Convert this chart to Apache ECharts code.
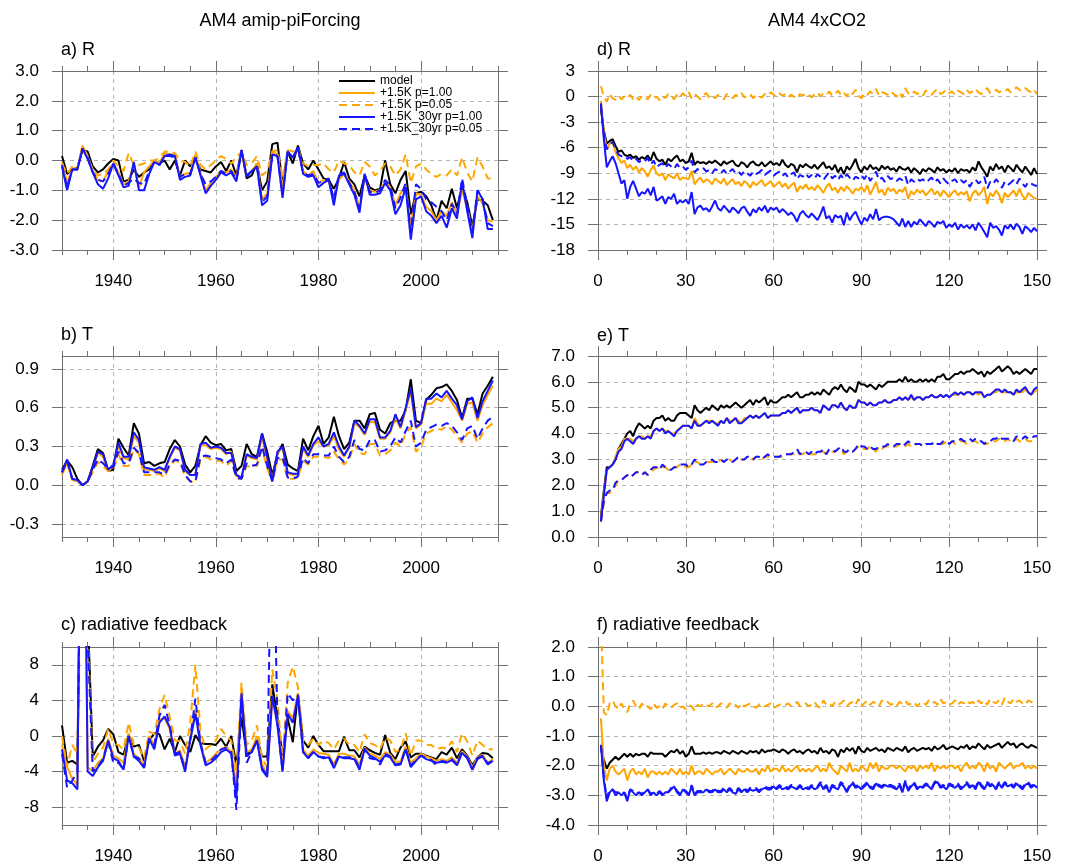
<!DOCTYPE html>
<html>
<head>
<meta charset="utf-8">
<title>AM4 radiative feedback</title>
<script src="https://cdn.jsdelivr.net/npm/echarts@6/dist/echarts.min.js"></script>
<style>
  html, body { margin: 0; padding: 0; background: #fff; }
  #chart { width: 1065px; height: 865px; }
</style>
</head>
<body>
<div id="chart"></div>
<script>
// ---- data ----
const NAMES = ['model', '+1.5K p=1.00', '+1.5K p=0.05', '+1.5K_30yr p=1.00', '+1.5K_30yr p=0.05'];

// x values: AMIP years 1930..2014, 4xCO2 years 1..150
const years = [];
for (let y = 1930; y <= 2014; y++) years.push(y);
const steps = [];
for (let t = 1; t <= 150; t++) steps.push(t);

const yearTicks = [1940, 1960, 1980, 2000];
const stepTicks = [0, 30, 60, 90, 120, 150];

const aTicks = [-3, -2, -1, 0, 1, 2, 3];
const bTicks = [-0.3, 0, 0.3, 0.6, 0.9];
const cTicks = [-8, -4, 0, 4, 8];
const dTicks = [-18, -15, -12, -9, -6, -3, 0, 3];
const eTicks = [0, 1, 2, 3, 4, 5, 6, 7];
const fTicks = [-4, -3, -2, -1, 0, 1, 2];

// a) R, amip-piForcing
const aModel = [
  0.15, -0.45, -0.3, -0.25, 0.35, 0.3, -0.2, -0.4, -0.3, -0.1,
  0.05, 0.0, -0.7, -0.65, -0.3, -0.55, -0.4, -0.3, 0.0, -0.1,
  0.0, -0.3, 0.0, -0.5, 0.0, -0.2, 0.05, -0.3, -0.35, -0.4,
  -0.2, -0.05, -0.35, 0.0, -0.5, 0.35, -0.6, -0.5, -0.1, -1.0,
  -0.7, 0.55, 0.6, -0.8, 0.3, -0.1, 0.5, -0.1, -0.3, 0.0,
  -0.3, -0.6, -0.65, -0.95, -0.6, -0.05, -0.6, -0.8, -1.2, -0.5,
  -0.9, -1.0, -0.95, 0.0, -0.8, -1.1, -0.65, -0.35, -1.8, -1.1,
  -1.05, -1.2, -1.5, -2.0, -1.35, -1.6, -0.95, -1.6, -0.9, -1.4,
  -2.2, -1.3, -1.35, -1.5, -2.0
];
const aOr100 = [
  -0.05, -0.75, -0.25, -0.3, 0.5, 0.15, -0.35, -0.65, -0.7, -0.35,
  -0.1, -0.4, -0.8, -0.7, -0.1, -0.9, -0.4, -0.2, 0.0, -0.1,
  0.25, 0.2, 0.2, -0.55, -0.45, -0.4, 0.2, -0.4, -1.0, -0.75,
  -0.55, -0.35, -0.4, -0.3, -0.55, 0.3, -0.5, -0.35, -0.1, -1.3,
  -1.1, 0.3, 0.2, -0.9, 0.3, 0.1, 0.4, -0.35, -0.5, -0.35,
  -0.75, -0.65, -0.7, -1.3, -0.65, -0.45, -0.7, -1.0, -1.55, -0.6,
  -1.0, -1.05, -1.0, -0.7, -0.9, -1.5, -1.1, -0.85, -2.2, -1.1,
  -1.15, -1.55, -1.7, -2.0, -1.7, -1.85, -1.4, -1.8, -1.0, -1.6,
  -2.35, -1.2, -1.45, -2.0, -2.05
];
const aOr005 = [
  -0.1, -0.45, -0.2, -0.25, 0.5, 0.1, -0.3, -0.5, -0.45, -0.3,
  0.0, -0.2, -0.35, 0.25, -0.15, -0.15, -0.1, 0.0, 0.0, 0.1,
  0.3, 0.3, 0.25, 0.0, -0.05, -0.2, 0.3, -0.15, -0.3, -0.15,
  0.0, 0.15, 0.05, -0.1, 0.1, 0.3, -0.15, -0.1, 0.15, -0.5,
  -0.35, 0.3, 0.35, -0.6, 0.35, 0.3, 0.4, -0.1, -0.2, -0.15,
  -0.15, -0.1, -0.3, -0.4, 0.0, -0.1, -0.15, -0.4, -0.5, -0.05,
  -0.2, -0.5, -0.35, -0.1, -0.2, -0.5, -0.3, 0.2, -0.75, -0.2,
  -0.1, -0.3, -0.45, -0.55, -0.45, -0.5, -0.3, -0.5, 0.1, -0.4,
  -0.7, 0.1, -0.2, -0.6, -0.6
];
const aBl100 = [
  -0.2, -1.0, -0.3, -0.3, 0.4, 0.05, -0.4, -0.8, -0.95, -0.6,
  -0.1, -0.5, -0.9, -0.85, -0.05, -1.0, -1.0, -0.45, -0.05, -0.15,
  0.15, 0.2, 0.15, -0.65, -0.55, -0.5, 0.1, -0.5, -1.1, -0.85,
  -0.65, -0.4, -0.5, -0.4, -0.7, 0.35, -0.55, -0.35, -0.2, -1.5,
  -1.35, 0.2, 0.15, -1.25, 0.3, 0.1, 0.45, -0.45, -0.55, -0.5,
  -0.9, -0.75, -0.65, -1.5, -0.5, -0.45, -0.8, -1.15, -1.75, -0.45,
  -1.15, -1.15, -1.1, -0.75, -1.0, -1.8, -1.5, -0.9, -2.65, -1.3,
  -1.2, -1.7, -1.85, -2.1, -1.85, -2.25, -1.6, -1.95, -0.7, -1.7,
  -2.6, -1.0, -1.3, -2.3, -2.3
];
const aBl005 = [
  -0.15, -0.9, -0.3, -0.3, 0.4, 0.1, -0.4, -0.65, -0.7, -0.45,
  -0.1, -0.45, -0.85, -0.75, -0.6, -0.75, -0.8, -0.35, -0.05, -0.15,
  0.15, 0.15, 0.1, -0.55, -0.45, -0.45, 0.1, -0.45, -0.8, -0.7,
  -0.55, -0.35, -0.45, -0.35, -0.65, 0.3, -0.5, -0.35, -0.2, -1.4,
  -1.2, 0.2, 0.15, -1.15, 0.3, 0.1, 0.4, -0.4, -0.5, -0.45,
  -0.75, -0.7, -0.6, -1.3, -0.45, -0.4, -0.75, -1.05, -1.6, -0.45,
  -1.05, -1.1, -1.0, -0.65, -0.85, -1.6, -1.25, -0.75, -2.4, -0.8,
  -0.95, -1.3, -1.4, -1.55, -1.7, -2.0, -1.45, -1.8, -0.6, -1.5,
  -2.4, -1.0, -1.3, -2.1, -2.2
];

// b) T, amip-piForcing
const bModel = [
  0.12, 0.19, 0.14, 0.05, 0.0, 0.03, 0.15, 0.28, 0.25, 0.11,
  0.12, 0.36, 0.29, 0.23, 0.48, 0.4, 0.17, 0.18, 0.15, 0.17,
  0.18, 0.28, 0.35, 0.3, 0.16, 0.1, 0.15, 0.31, 0.38, 0.33,
  0.31, 0.32, 0.27, 0.28, 0.11, 0.15, 0.32, 0.24, 0.22, 0.4,
  0.26, 0.08, 0.24, 0.32, 0.16, 0.13, 0.11, 0.36, 0.27, 0.38,
  0.46, 0.32, 0.37, 0.53, 0.38, 0.28, 0.33, 0.5, 0.5, 0.44,
  0.55, 0.56, 0.43, 0.4, 0.48, 0.5, 0.5, 0.58, 0.82, 0.5,
  0.48, 0.66, 0.7, 0.75, 0.76, 0.78, 0.73, 0.66, 0.52, 0.67,
  0.67, 0.55, 0.71, 0.77, 0.84
];
const bOr100 = [
  0.09, 0.17, 0.05, 0.03, 0.0, 0.03, 0.13, 0.25, 0.22, 0.11,
  0.14, 0.3, 0.21, 0.2, 0.38, 0.33, 0.12, 0.12, 0.11, 0.13,
  0.11, 0.21, 0.29, 0.27, 0.11, 0.08, 0.08, 0.31, 0.31, 0.28,
  0.29, 0.28, 0.24, 0.26, 0.07, 0.06, 0.23, 0.21, 0.2, 0.37,
  0.2, 0.04, 0.25, 0.29, 0.09, 0.08, 0.09, 0.28, 0.22, 0.31,
  0.34, 0.3, 0.31, 0.38, 0.28, 0.22, 0.29, 0.48, 0.45, 0.39,
  0.49, 0.49, 0.36, 0.36, 0.41, 0.52, 0.44, 0.58, 0.72, 0.44,
  0.47, 0.63, 0.63, 0.67, 0.65, 0.7, 0.64, 0.58, 0.5, 0.63,
  0.64, 0.5, 0.62, 0.7, 0.77
];
const bOr005 = [
  0.08, 0.17, 0.04, 0.03, 0.0, 0.03, 0.1, 0.18, 0.15, 0.11,
  0.12, 0.24, 0.15, 0.15, 0.28, 0.24, 0.08, 0.08, 0.08, 0.09,
  0.06, 0.15, 0.19, 0.18, 0.07, 0.03, 0.02, 0.2, 0.22, 0.2,
  0.19, 0.19, 0.15, 0.19, 0.05, 0.05, 0.15, 0.14, 0.15, 0.28,
  0.13, 0.03, 0.2, 0.2, 0.05, 0.05, 0.06, 0.19, 0.16, 0.22,
  0.22, 0.22, 0.21, 0.26, 0.2, 0.16, 0.2, 0.32, 0.25, 0.24,
  0.32, 0.32, 0.23, 0.24, 0.27, 0.33, 0.3, 0.4, 0.45, 0.26,
  0.3, 0.4, 0.42, 0.44, 0.43, 0.46, 0.43, 0.38, 0.33, 0.4,
  0.42, 0.33, 0.4, 0.45, 0.48
];
const bBl100 = [
  0.1, 0.2, 0.05, 0.04, 0.0, 0.03, 0.14, 0.26, 0.24, 0.12,
  0.16, 0.33, 0.22, 0.22, 0.41, 0.35, 0.14, 0.13, 0.12, 0.14,
  0.12, 0.22, 0.3, 0.28, 0.12, 0.08, 0.08, 0.32, 0.33, 0.29,
  0.3, 0.29, 0.25, 0.25, 0.08, 0.06, 0.24, 0.22, 0.21, 0.4,
  0.22, 0.03, 0.26, 0.3, 0.1, 0.09, 0.09, 0.3, 0.23, 0.32,
  0.37, 0.3, 0.32, 0.41, 0.3, 0.23, 0.3, 0.5, 0.46, 0.4,
  0.51, 0.51, 0.37, 0.37, 0.42, 0.55, 0.45, 0.6, 0.75, 0.45,
  0.48, 0.67, 0.67, 0.71, 0.68, 0.73, 0.67, 0.62, 0.51, 0.65,
  0.68, 0.52, 0.65, 0.73, 0.81
];
const bBl005 = [
  0.1, 0.19, 0.05, 0.04, 0.0, 0.03, 0.12, 0.2, 0.17, 0.13,
  0.14, 0.26, 0.17, 0.17, 0.29, 0.25, 0.1, 0.1, 0.1, 0.1,
  0.08, 0.16, 0.2, 0.19, 0.08, 0.03, 0.03, 0.22, 0.23, 0.22,
  0.21, 0.2, 0.17, 0.2, 0.06, 0.05, 0.17, 0.15, 0.16, 0.3,
  0.15, 0.03, 0.21, 0.22, 0.06, 0.05, 0.07, 0.21, 0.17, 0.24,
  0.24, 0.23, 0.23, 0.3, 0.22, 0.18, 0.22, 0.35, 0.28, 0.27,
  0.35, 0.35, 0.26, 0.27, 0.3, 0.37, 0.33, 0.42, 0.5, 0.3,
  0.33, 0.43, 0.45, 0.47, 0.46, 0.48, 0.46, 0.41, 0.35, 0.44,
  0.46, 0.36, 0.44, 0.5, 0.53
];

// c) radiative feedback, amip-piForcing
const cModel = [
  1.2, -3.0, -2.8, -3.2, 40, 14, -2.3, -1.2, -0.5, 0.8,
  0.2, -1.8, -2.1, 0.1, -1.2, -1.0, -2.8, -0.5, 0.3, 0.2,
  -1.5, -0.3, -1.8, 0.0, -1.0, -1.8, 0.1, -0.8, -0.9, -0.9,
  -1.0, -0.3, -1.2, 0.0, -3.3, 2.1, -2.0, -1.8, -0.2, -2.3,
  -2.3, 5.8, 2.0, -2.2, 2.0, -0.7, 4.8, -0.5, -1.3, 0.0,
  -1.0, -1.7, -1.7, -1.7, -1.7, -0.1, -1.6, -1.6, -2.4, -1.2,
  -1.6, -1.9, -2.1, 0.1, -1.9, -2.6, -1.3, -0.6, -2.4, -2.0,
  -2.0, -2.2, -2.4, -2.6, -1.8, -2.1, -1.3, -2.5, -1.5, -2.2,
  -3.3, -2.4, -1.9, -2.0, -2.5
];
const cOr100 = [
  -1.0, -3.5, -4.8, -5.5, 45, -3.5, -4.0, -3.0, -2.5, -0.3,
  -2.2, -2.5, -3.0, 0.3, -2.0, -2.5, -3.2, 0.0, -1.0, 1.8,
  2.0, 0.8, -2.0, -1.6, -3.5, -0.3, 3.0, -0.8, -3.0, -2.6,
  -2.0, -1.5, -1.2, -1.8, -5.5, 5.2, -1.8, -1.5, 0.0, -3.2,
  -4.2, 4.2, 1.5, -3.5, 2.8, 2.0, 4.8, -1.5, -2.2, -1.5,
  -1.9, -2.0, -2.1, -3.2, -2.0, -2.0, -2.2, -2.3, -3.2, -1.3,
  -2.0, -2.2, -2.6, -1.8, -2.1, -2.9, -2.9, -1.2, -3.0, -2.5,
  -2.0, -2.3, -2.5, -2.8, -2.6, -2.8, -2.4, -3.0, -1.7, -2.3,
  -3.5, -2.4, -2.1, -3.0, -2.6
];
const cOr005 = [
  0.0, -3.4, -1.0, -2.0, 50, 12, -3.0, -2.0, -1.3, 0.8,
  -0.8, -1.0, -1.5, 1.5, -1.0, -1.3, -2.5, 0.5, 0.2, 3.0,
  4.6, 2.2, -0.5, -0.6, -2.0, 1.5, 8.0, 0.5, -1.5, -1.0,
  -0.5, 0.8, 0.0, -0.5, -4.0, 6.0, -1.0, -0.5, 1.2, -2.5,
  -3.5, 7.5, 4.0, -3.0, 6.0, 7.8, 5.5, -0.5, -1.0, -0.3,
  -1.0, -0.5, -0.8, -1.5, -0.5, -0.3, -1.0, -1.0, -1.8, 0.2,
  -0.8, -1.0, -1.5, -0.2, -0.5, -1.8, -1.5, 0.3, -2.2, -0.5,
  -0.5, -1.0, -1.0, -1.5, -1.3, -1.4, -0.6, -1.8, 0.3, -0.6,
  -2.2, -0.5, -1.0, -1.5, -1.5
];
const cBl100 = [
  -1.5, -5.0, -5.3, -6.0, 50, -4.0, -4.5, -3.5, -2.8, -0.5,
  -2.5, -2.8, -3.8, 0.0, -2.3, -2.8, -3.6, -0.3, -1.5, 1.5,
  2.2, 1.0, -2.2, -2.0, -4.0, -0.5, 2.5, -1.0, -3.3, -3.0,
  -2.5, -1.8, -1.5, -2.0, -7.0, 4.8, -2.3, -1.8, -0.5, -3.8,
  -4.6, 4.5, 1.2, -4.0, 2.5, 1.5, 4.5, -1.8, -2.5, -1.8,
  -2.3, -2.5, -2.4, -3.6, -2.3, -2.5, -2.5, -2.6, -3.8, -1.5,
  -2.2, -2.5, -2.9, -2.2, -2.4, -3.3, -3.2, -1.5, -3.5, -2.8,
  -2.2, -2.6, -2.8, -3.0, -2.9, -3.0, -2.7, -3.3, -1.9, -2.5,
  -3.8, -2.6, -2.3, -3.2, -2.8
];
const cBl005 = [
  -2.0, -5.8, -5.0, -4.0, 40, 11, -4.0, -3.4, -2.6, -0.6,
  -3.0, -3.0, -3.8, 0.0, -2.3, -2.5, -3.5, -0.3, -1.0, 2.3,
  3.5, 1.2, -2.0, -1.8, -3.8, -0.3, 4.2, -0.8, -3.0, -2.8,
  -2.2, -1.5, -1.3, -1.8, -8.3, 4.2, -3.0, -1.8, -0.5, -3.6,
  -4.5, 30, 1.5, -4.0, 4.8, 4.0, 4.6, -1.8, -2.4, -1.8,
  -2.3, -2.4, -2.3, -3.4, -2.2, -2.4, -2.4, -2.5, -3.6, -1.4,
  -2.5, -2.6, -3.2, -2.0, -2.3, -3.2, -3.1, -1.4, -3.3, -2.7,
  -2.2, -2.5, -2.7, -3.3, -2.8, -2.9, -2.6, -3.2, -1.8, -2.4,
  -3.7, -2.5, -2.2, -3.1, -2.7
];

// d) R, 4xCO2
const dModel = [
  -1.5, -4.0, -5.5, -5.2, -5.0, -5.8, -6.5, -6.3, -6.8, -7.0,
  -6.8, -7.2, -7.0, -7.4, -7.1, -7.3, -6.9, -7.5, -6.5, -7.3,
  -7.6, -7.4, -8.0, -7.3, -7.6, -7.2, -6.9, -7.6, -7.4, -7.8,
  -7.6, -6.6, -8.0, -7.6, -7.8, -7.7, -7.9, -7.6, -7.8, -7.5,
  -7.8, -8.1, -7.6, -7.9, -7.7, -7.5, -8.0, -8.2, -7.7, -7.9,
  -8.3, -7.8, -7.6, -8.0, -8.1, -7.7, -8.2, -7.9, -7.6, -8.0,
  -7.8, -8.1, -7.4, -8.0, -8.3, -7.9, -8.1, -8.9, -8.0, -8.3,
  -7.9, -8.2, -8.4, -8.0, -8.5, -8.1, -7.7, -8.4, -8.2, -8.6,
  -8.0, -8.9, -8.3, -9.1, -8.2, -8.6, -8.0, -7.3, -8.4, -8.9,
  -8.2, -8.6, -8.0, -8.5, -8.3, -8.7, -8.1, -8.5, -8.2, -8.6,
  -8.4, -8.8, -8.2, -8.5, -8.6, -8.3, -8.9, -8.4, -8.7, -9.1,
  -8.5, -8.8, -8.4, -8.6, -8.9, -8.3, -8.7, -8.5, -8.9, -8.6,
  -8.8, -8.4, -9.0, -8.5, -8.7, -8.6, -8.9, -8.3, -8.7, -7.6,
  -8.3, -8.8, -9.4, -8.2, -8.7, -7.9, -8.5, -8.2, -8.9, -8.1,
  -8.4, -8.8, -8.0, -8.5, -8.9, -8.2, -8.7, -9.2, -8.4, -9.1
];
const dOr100 = [
  -0.5, -4.2, -6.2, -5.5, -5.4, -6.5, -7.2, -7.8, -7.5, -8.4,
  -8.0, -8.6, -8.2, -8.9, -8.4, -8.8, -9.4, -8.6, -8.1, -9.0,
  -9.3, -9.0, -9.8, -9.1, -9.4, -9.6, -9.0, -9.8, -9.5, -9.6,
  -9.7, -8.7, -10.3, -9.8, -9.5, -10.1, -9.7, -9.9, -10.3, -9.6,
  -9.9, -10.2, -9.6, -10.4, -10.0, -9.7, -10.3, -10.0, -10.5, -9.9,
  -10.2, -10.7, -10.0, -10.4, -10.1, -9.8, -10.5, -10.2, -9.9, -10.6,
  -10.3, -10.0, -10.6, -10.2, -10.8, -10.4, -10.1, -11.2, -10.5, -10.8,
  -10.3, -10.9, -10.6, -11.0, -10.4, -10.8, -11.3, -10.6, -10.2, -11.0,
  -10.7, -11.3, -10.6, -11.1, -10.5, -10.9, -11.4, -10.8, -11.0, -10.6,
  -11.2, -10.4, -11.5, -10.8, -10.0, -11.3, -10.9, -11.6, -10.7, -11.1,
  -10.8, -11.4, -10.9, -11.2, -10.6, -12.0, -11.1, -11.5, -10.9, -11.3,
  -11.0, -11.6, -11.2, -10.8, -11.5, -11.1, -11.7, -11.0, -11.4, -11.8,
  -11.3, -11.0, -11.6, -11.2, -11.5, -11.1, -12.3, -11.4, -11.0, -11.6,
  -11.2, -10.6, -12.6, -11.3, -11.7, -11.0, -11.5, -12.5, -11.3, -11.8,
  -11.4, -11.0, -11.7, -10.8, -11.6, -12.1, -11.3, -11.6, -11.9, -12.0
];
const dOr005 = [
  1.2, 0.0, -0.6, 0.3, -0.2, -0.4, 0.1, -0.3, 0.0, -0.2,
  0.2, -0.3, 0.0, -0.4, 0.1, -0.1, -0.3, 0.2, -0.2, 0.0,
  -0.4, 0.1, -0.2, 0.3, 0.0, -0.3, 0.2, -0.1, 0.4, 0.0,
  0.5, -0.2, 0.3, 0.0, -0.3, 0.2, 0.4, -0.1, 0.1, -0.2,
  0.2, 0.0, -0.3, 0.3, 0.1, -0.2, 0.2, 0.0, 0.4, -0.1,
  0.1, 0.3, -0.2, 0.2, 0.0, -0.1, 0.3, 0.1, 0.5, 0.2,
  0.0, 0.4, 0.1, 0.3, -0.1, 0.2, 0.0, -0.2, 0.3, 0.1,
  0.4, 0.2, -0.1, 0.3, 0.5, 0.0, 0.4, 0.2, 0.6, 0.1,
  0.3, 0.7, 0.2, 0.5, 0.0, 0.6, 0.3, 0.8, 0.1, -0.2,
  0.4, 0.2, 0.6, 0.3, 0.9, 0.1, 0.5, 0.4, 0.2, 0.6,
  0.3, 0.0, 0.5, -0.1, 1.0, 0.4, 0.2, 0.6, 0.3, 0.5,
  0.1, 0.7, 0.4, 0.2, 0.6, 0.9, 0.3, 0.5, 0.8, 0.4,
  0.6, 0.2, 0.7, 0.5, 0.3, 0.8, 0.4, 0.6, 0.9, 0.5,
  0.3, 0.7, 1.0, 0.4, 0.6, 0.8, 0.5, 0.7, 0.6, 0.9,
  0.5, 0.7, 1.1, 0.8, 0.6, 1.0, 0.7, 0.5, 0.8, 0.3
];
const dBl100 = [
  -0.8, -5.0, -8.3, -7.6, -7.0, -7.8, -9.0, -10.2, -9.8, -12.0,
  -10.6, -9.9, -10.8, -11.7, -11.2, -11.4, -10.8, -11.6, -10.6, -12.2,
  -12.0, -11.7, -12.6, -11.8, -12.0, -11.4, -12.6, -12.2, -12.4, -12.1,
  -12.6, -11.2, -13.8, -13.0, -12.8, -13.3, -13.1, -13.5, -12.9, -12.2,
  -13.1, -13.4, -12.8, -13.2, -13.6, -13.0, -13.3, -13.7, -13.1, -12.9,
  -13.5, -14.0, -13.2, -13.6, -13.0, -13.4, -12.8, -13.6, -13.0, -13.3,
  -13.0, -13.6, -13.2, -13.5, -13.9, -13.6, -14.0, -14.7, -13.8, -13.4,
  -13.9, -14.2, -13.7, -14.1, -14.5, -13.8, -12.9, -14.3, -14.0, -14.8,
  -13.9, -14.2, -14.0, -15.1, -13.6, -14.5, -13.9, -13.5, -14.3, -15.0,
  -14.2, -14.6, -13.8, -14.4, -13.2, -14.5, -14.2, -14.1, -14.1, -14.2,
  -14.4, -14.8, -15.2, -14.3, -15.3, -14.6, -15.3, -14.7, -15.0, -14.4,
  -14.8, -15.2, -14.6, -14.9, -15.3, -14.7, -14.9, -14.6, -15.4, -15.0,
  -15.3, -14.8, -15.6, -15.0, -15.4, -15.1, -15.5, -15.0, -15.7, -14.8,
  -15.3, -15.9, -16.5, -14.8, -15.4, -15.2, -15.6, -16.3, -15.1, -15.5,
  -15.0, -15.6, -14.9, -15.3, -16.1, -15.2, -15.5, -15.9, -15.4, -15.8
];
const dBl005 = [
  -1.0, -4.5, -6.2, -5.6, -5.3, -6.2, -6.8, -7.0, -6.9, -7.3,
  -7.1, -7.6, -7.3, -7.7, -7.4, -7.6, -7.2, -8.0, -7.5, -8.3,
  -8.0, -7.8, -8.4, -7.9, -8.2, -8.5, -7.9, -8.4, -8.2, -8.6,
  -8.3, -7.5, -8.9, -8.5, -8.7, -8.4, -8.8, -8.6, -9.0, -8.5,
  -8.7, -9.0, -8.6, -9.1, -8.8, -8.5, -9.0, -8.8, -9.2, -8.7,
  -9.0, -9.3, -8.8, -9.1, -8.9, -8.6, -9.2, -8.9, -8.7, -9.3,
  -9.0, -8.8, -9.3, -9.0, -9.5, -9.1, -8.9, -9.7, -9.2, -9.4,
  -9.0, -9.5, -9.2, -9.6, -9.1, -9.4, -9.8, -9.3, -8.9, -9.6,
  -9.3, -9.8, -9.2, -9.7, -9.1, -9.5, -9.9, -9.4, -9.6, -9.2,
  -9.7, -9.1, -9.9, -9.4, -8.8, -9.8, -9.5, -10.0, -9.3, -9.7,
  -9.5, -9.9, -9.6, -9.8, -9.3, -10.4, -9.7, -10.0, -9.6, -9.9,
  -9.7, -10.1, -9.8, -9.5, -10.1, -9.7, -10.2, -9.6, -10.0, -10.3,
  -9.9, -9.7, -10.2, -9.8, -10.1, -9.8, -10.6, -10.0, -9.7, -10.2,
  -9.9, -9.4, -10.8, -10.0, -10.3, -9.7, -10.1, -10.7, -10.0, -10.4,
  -10.1, -9.8, -10.3, -9.6, -10.2, -10.6, -10.0, -10.2, -10.4, -10.5
];

// e) T, 4xCO2
const eModel = [
  0.8, 1.8, 2.7, 2.7, 2.8, 3.0, 3.4, 3.6, 3.8, 4.0,
  4.1, 3.9, 4.2, 4.4, 4.3, 4.2, 4.3, 4.2, 4.5, 4.6,
  4.6, 4.7, 4.5, 4.6, 4.5, 4.5, 4.7, 4.8, 4.8, 4.8,
  4.7, 4.6, 5.1, 4.9, 4.8, 4.9, 5.0, 4.9, 5.1, 5.0,
  4.9, 5.1, 5.0, 5.1, 5.0, 5.1, 5.2, 5.1, 5.0, 5.1,
  5.2, 5.3, 5.1, 5.3, 5.2, 5.3, 5.4, 5.1, 5.3, 5.2,
  5.2, 5.3, 5.4, 5.4, 5.5, 5.4, 5.5, 5.6, 5.4, 5.4,
  5.5, 5.5, 5.6, 5.5, 5.6, 5.5, 5.7, 5.6, 5.5, 5.7,
  5.8, 5.7, 5.9, 5.7, 5.6, 5.8, 5.7, 5.6, 6.0, 5.9,
  5.9, 5.8, 5.9, 5.8, 5.7, 5.9, 5.8, 5.9, 6.0, 6.0,
  6.0, 6.0, 6.1, 6.0, 6.2, 6.0, 6.1, 6.0, 6.0, 6.1,
  6.0, 6.1, 6.0, 6.1, 6.0, 6.2, 6.2, 6.3, 6.1, 6.1,
  6.2, 6.3, 6.3, 6.4, 6.3, 6.4, 6.4, 6.5, 6.4, 6.3,
  6.4, 6.2, 6.4, 6.3, 6.4, 6.5, 6.6, 6.4, 6.5, 6.6,
  6.5, 6.3, 6.4, 6.3, 6.4, 6.5, 6.4, 6.3, 6.5, 6.5
];
const eOr100 = [
  0.7, 1.7, 2.6, 2.7, 2.8, 3.1, 3.4, 3.5, 3.8, 3.8,
  3.8, 3.7, 3.8, 3.9, 3.9, 3.8, 3.9, 3.9, 4.1, 4.2,
  4.1, 4.2, 4.1, 4.1, 4.0, 4.0, 4.1, 4.2, 4.3, 4.3,
  4.3, 4.2, 4.6, 4.4, 4.3, 4.4, 4.5, 4.5, 4.5, 4.4,
  4.4, 4.5, 4.4, 4.6, 4.5, 4.5, 4.6, 4.5, 4.4, 4.6,
  4.6, 4.7, 4.6, 4.7, 4.6, 4.7, 4.8, 4.6, 4.7, 4.7,
  4.7, 4.7, 4.8, 4.8, 4.9, 4.8, 4.9, 5.0, 4.8, 4.9,
  4.9, 4.9, 5.0, 4.9, 4.9, 4.8, 5.1, 5.0, 4.9, 5.1,
  5.1, 5.0, 5.2, 5.0, 4.9, 5.1, 5.0, 5.0, 5.3, 5.2,
  5.2, 5.1, 5.2, 5.1, 5.1, 5.2, 5.2, 5.3, 5.2, 5.2,
  5.3, 5.3, 5.4, 5.3, 5.4, 5.3, 5.4, 5.3, 5.4, 5.4,
  5.3, 5.4, 5.4, 5.5, 5.4, 5.4, 5.5, 5.4, 5.5, 5.4,
  5.5, 5.5, 5.5, 5.6, 5.5, 5.6, 5.6, 5.5, 5.6, 5.5,
  5.6, 5.4, 5.5, 5.5, 5.6, 5.6, 5.7, 5.6, 5.6, 5.6,
  5.6, 5.5, 5.6, 5.6, 5.6, 5.7, 5.6, 5.5, 5.6, 5.7
];
const eOr005 = [
  0.6, 1.3, 1.7, 1.7, 1.8, 2.0, 2.2, 2.2, 2.3, 2.4,
  2.3, 2.4, 2.5, 2.5, 2.4, 2.5, 2.4, 2.5, 2.6, 2.7,
  2.6, 2.7, 2.7, 2.6, 2.6, 2.7, 2.7, 2.8, 2.8, 2.7,
  2.7, 2.8, 2.9, 2.9, 2.8, 2.8, 2.9, 2.9, 2.9, 2.9,
  2.9, 3.0, 2.9, 3.0, 3.0, 2.9, 3.0, 3.0, 3.0, 3.0,
  3.1, 3.1, 3.0, 3.1, 3.1, 3.0, 3.1, 3.1, 3.1, 3.1,
  3.1, 3.1, 3.1, 3.2, 3.2, 3.2, 3.2, 3.3, 3.2, 3.2,
  3.3, 3.2, 3.2, 3.2, 3.2, 3.3, 3.3, 3.2, 3.3, 3.3,
  3.3, 3.4, 3.4, 3.2, 3.3, 3.3, 3.3, 3.4, 3.5, 3.4,
  3.4, 3.4, 3.5, 3.4, 3.3, 3.5, 3.4, 3.5, 3.5, 3.5,
  3.5, 3.5, 3.6, 3.5, 3.5, 3.6, 3.5, 3.5, 3.6, 3.6,
  3.5, 3.6, 3.6, 3.6, 3.6, 3.6, 3.6, 3.6, 3.7, 3.6,
  3.7, 3.6, 3.7, 3.7, 3.7, 3.6, 3.7, 3.7, 3.7, 3.6,
  3.7, 3.6, 3.6, 3.7, 3.7, 3.7, 3.8, 3.7, 3.7, 3.8,
  3.7, 3.7, 3.8, 3.7, 3.7, 3.8, 3.7, 3.7, 3.8, 3.9
];
const eBl100 = [
  0.6, 1.6, 2.6, 2.7, 2.8, 3.0, 3.3, 3.4, 3.7, 3.8,
  3.7, 3.6, 3.8, 3.9, 3.8, 3.8, 3.9, 3.8, 4.1, 4.2,
  4.1, 4.2, 4.0, 4.1, 4.0, 3.9, 4.1, 4.2, 4.3, 4.3,
  4.3, 4.2, 4.5, 4.3, 4.3, 4.4, 4.5, 4.4, 4.5, 4.4,
  4.3, 4.5, 4.4, 4.6, 4.4, 4.5, 4.6, 4.4, 4.4, 4.5,
  4.6, 4.7, 4.6, 4.7, 4.6, 4.7, 4.8, 4.6, 4.7, 4.7,
  4.7, 4.7, 4.8, 4.8, 4.9, 4.8, 4.9, 5.0, 4.8, 4.9,
  4.9, 4.9, 5.0, 4.9, 4.9, 4.8, 5.1, 5.0, 4.9, 5.1,
  5.1, 5.0, 5.2, 5.0, 4.9, 5.1, 5.0, 5.0, 5.3, 5.2,
  5.2, 5.1, 5.2, 5.1, 5.1, 5.2, 5.2, 5.3, 5.2, 5.2,
  5.3, 5.3, 5.4, 5.3, 5.4, 5.3, 5.5, 5.3, 5.4, 5.4,
  5.3, 5.4, 5.4, 5.5, 5.4, 5.4, 5.5, 5.4, 5.5, 5.4,
  5.5, 5.6, 5.5, 5.6, 5.5, 5.6, 5.6, 5.5, 5.6, 5.6,
  5.6, 5.4, 5.5, 5.5, 5.6, 5.7, 5.7, 5.6, 5.7, 5.6,
  5.6, 5.5, 5.7, 5.6, 5.7, 5.8, 5.6, 5.5, 5.7, 5.8
];
const eBl005 = [
  0.6, 1.4, 1.7, 1.8, 1.8, 2.1, 2.2, 2.2, 2.3, 2.4,
  2.3, 2.4, 2.5, 2.5, 2.4, 2.5, 2.4, 2.6, 2.7, 2.7,
  2.6, 2.8, 2.7, 2.6, 2.6, 2.7, 2.7, 2.8, 2.8, 2.8,
  2.7, 2.8, 3.0, 2.9, 2.8, 2.8, 2.9, 2.9, 3.0, 2.9,
  2.9, 3.0, 2.9, 3.0, 3.0, 2.9, 3.0, 3.1, 3.0, 3.0,
  3.1, 3.1, 3.0, 3.1, 3.1, 3.0, 3.1, 3.2, 3.1, 3.1,
  3.1, 3.1, 3.2, 3.2, 3.2, 3.2, 3.3, 3.4, 3.2, 3.3,
  3.3, 3.2, 3.3, 3.2, 3.3, 3.3, 3.4, 3.2, 3.4, 3.4,
  3.3, 3.4, 3.5, 3.3, 3.3, 3.4, 3.3, 3.4, 3.6, 3.5,
  3.5, 3.4, 3.5, 3.4, 3.4, 3.5, 3.5, 3.5, 3.6, 3.5,
  3.5, 3.6, 3.6, 3.5, 3.6, 3.7, 3.6, 3.6, 3.6, 3.6,
  3.5, 3.6, 3.6, 3.6, 3.7, 3.6, 3.6, 3.7, 3.7, 3.6,
  3.7, 3.7, 3.7, 3.8, 3.7, 3.7, 3.8, 3.7, 3.8, 3.7,
  3.7, 3.6, 3.7, 3.7, 3.8, 3.8, 3.9, 3.8, 3.8, 3.8,
  3.8, 3.7, 3.9, 3.8, 3.8, 3.9, 3.8, 3.8, 3.9, 3.9
];

// f) radiative feedback, 4xCO2
const fModel = [
  -1.4, -1.8, -2.1, -1.9, -1.8, -1.7, -1.8, -1.7, -1.6, -1.7,
  -1.6, -1.7, -1.6, -1.65, -1.6, -1.6, -1.7, -1.55, -1.6, -1.6,
  -1.6, -1.6, -1.7, -1.6, -1.5, -1.55, -1.45, -1.6, -1.5, -1.7,
  -1.6, -1.35, -1.6, -1.6, -1.6, -1.55, -1.6, -1.55, -1.6, -1.55,
  -1.55, -1.6, -1.5, -1.55, -1.6, -1.5, -1.55, -1.6, -1.5, -1.55,
  -1.6, -1.5, -1.55, -1.5, -1.6, -1.45, -1.55, -1.5, -1.5, -1.45,
  -1.5, -1.55, -1.45, -1.5, -1.6, -1.5, -1.45, -1.55, -1.5, -1.6,
  -1.5, -1.45, -1.55, -1.5, -1.6, -1.4, -1.55, -1.5, -1.6, -1.45,
  -1.5, -1.7, -1.45, -1.55, -1.4, -1.5, -1.4, -1.6, -1.35, -1.5,
  -1.55, -1.4, -1.5, -1.45, -1.4, -1.5, -1.45, -1.55, -1.4, -1.45,
  -1.5, -1.4, -1.45, -1.5, -1.35, -1.55, -1.45, -1.4, -1.5, -1.45,
  -1.4, -1.45, -1.4, -1.5, -1.35, -1.45, -1.4, -1.3, -1.45, -1.4,
  -1.35, -1.4, -1.45, -1.35, -1.4, -1.3, -1.45, -1.35, -1.4, -1.25,
  -1.35, -1.45, -1.3, -1.4, -1.35, -1.3, -1.25, -1.4, -1.3, -1.2,
  -1.3, -1.25, -1.4, -1.3, -1.25, -1.35, -1.4, -1.3, -1.35, -1.4
];
const fOr100 = [
  -0.4, -2.0, -2.5, -2.1, -2.0, -2.2, -2.3, -2.2, -2.1, -2.5,
  -2.2, -2.1, -2.3, -2.2, -2.3, -2.1, -2.4, -2.2, -2.2, -2.3,
  -2.2, -2.3, -2.2, -2.3, -2.1, -2.2, -2.3, -2.1, -2.3, -2.2,
  -2.3, -2.0, -2.3, -2.2, -2.2, -2.3, -2.1, -2.2, -2.3, -2.2,
  -2.2, -2.1, -2.3, -2.2, -2.1, -2.2, -2.3, -2.1, -2.2, -2.2,
  -2.1, -2.2, -2.2, -2.1, -2.3, -2.1, -2.2, -2.0, -2.2, -2.1,
  -2.1, -2.2, -2.0, -2.2, -2.1, -2.2, -2.1, -2.0, -2.2, -2.1,
  -2.2, -2.1, -2.2, -2.1, -2.0, -2.2, -2.1, -2.2, -1.9, -2.1,
  -2.2, -2.3, -2.0, -2.1, -2.2, -1.9, -2.2, -2.1, -2.2, -2.0,
  -2.1, -2.2, -1.9, -2.1, -1.9, -2.2, -2.0, -2.1, -2.1, -2.0,
  -2.0, -2.1, -2.0, -2.1, -2.2, -2.0, -2.1, -2.0, -2.2, -2.0,
  -2.1, -2.0, -2.1, -1.9, -2.2, -2.0, -2.1, -2.0, -2.1, -2.0,
  -2.0, -2.1, -2.0, -2.2, -2.0, -1.9, -2.1, -2.0, -2.1, -1.9,
  -2.0, -2.2, -1.9, -2.1, -2.0, -2.2, -1.9, -2.0, -2.1, -2.0,
  -1.9, -2.1, -2.0, -2.0, -1.9, -2.1, -2.0, -2.1, -2.0, -2.1
];
const fOr005 = [
  3.0, -0.2, -0.3, 0.1, 0.2, 0.0, -0.1, 0.1, -0.1, -0.2,
  0.1, 0.2, 0.0, -0.1, 0.1, -0.05, 0.0, -0.1, 0.1, -0.05,
  0.0, -0.1, 0.1, 0.0, -0.05, 0.05, 0.1, -0.05, 0.0, -0.1,
  0.05, 0.0, -0.15, 0.05, 0.0, 0.1, 0.05, 0.0, 0.1, -0.05,
  0.0, 0.1, 0.05, -0.05, 0.1, 0.0, 0.05, -0.05, 0.1, 0.0,
  0.05, 0.1, 0.0, -0.05, 0.05, 0.1, 0.0, 0.05, 0.1, -0.05,
  0.0, 0.05, 0.1, 0.05, 0.1, 0.0, 0.05, 0.15, 0.0, 0.05,
  0.1, 0.0, 0.05, 0.15, 0.0, -0.05, 0.2, 0.05, 0.1, 0.0,
  0.15, 0.05, 0.1, 0.2, 0.0, 0.1, 0.15, 0.05, 0.25, 0.0,
  0.1, 0.2, 0.05, 0.15, 0.1, 0.0, 0.2, 0.1, 0.15, 0.05,
  0.1, 0.0, 0.15, 0.1, 0.2, 0.05, 0.1, 0.15, 0.0, 0.1,
  0.15, 0.05, 0.2, 0.1, 0.15, 0.05, 0.25, 0.1, 0.15, 0.05,
  0.1, 0.2, 0.05, 0.15, 0.1, 0.2, 0.1, 0.15, 0.05, 0.2,
  0.1, 0.2, 0.05, 0.25, 0.15, 0.1, 0.2, 0.05, 0.3, 0.15,
  0.1, 0.25, 0.15, 0.2, 0.1, 0.05, 0.2, 0.15, 0.1, 0.15
];
const fBl100 = [
  -1.3, -2.5, -3.2, -2.9, -2.8, -3.0, -2.9, -3.0, -2.9, -3.2,
  -2.8, -2.9, -3.0, -2.9, -3.0, -2.9, -2.8, -3.0, -2.9, -3.0,
  -2.9, -3.0, -2.9, -2.9, -2.8, -2.7, -2.9, -3.0, -2.8, -2.9,
  -3.0, -2.7, -3.0, -2.9, -2.9, -2.9, -2.8, -2.9, -2.9, -2.8,
  -2.9, -2.9, -2.8, -2.9, -2.8, -2.9, -2.95, -2.8, -2.9, -2.8,
  -2.9, -2.8, -2.85, -2.8, -2.9, -2.8, -2.75, -2.8, -2.8, -2.7,
  -2.8, -2.7, -2.8, -2.75, -2.8, -2.7, -2.75, -2.8, -2.7, -2.8,
  -2.75, -2.8, -2.7, -2.8, -2.75, -2.6, -2.8, -2.7, -2.9, -2.7,
  -2.75, -2.8, -2.6, -2.7, -2.9, -2.7, -2.6, -2.75, -2.7, -2.8,
  -2.7, -2.6, -2.75, -2.8, -2.6, -2.7, -2.75, -2.65, -2.7, -2.7,
  -2.75, -2.8, -2.65, -2.9, -2.55, -2.85, -2.7, -2.6, -2.8, -2.7,
  -2.75, -2.65, -2.7, -2.8, -2.6, -2.55, -2.75, -2.7, -2.8, -2.65,
  -2.7, -2.75, -2.65, -2.8, -2.7, -2.6, -2.75, -2.65, -2.8, -2.55,
  -2.7, -2.8, -2.6, -2.7, -2.65, -2.8, -2.6, -2.75, -2.6, -2.7,
  -2.65, -2.75, -2.6, -2.7, -2.8, -2.65, -2.6, -2.75, -2.65, -2.75
];
const fBl005 = [
  -1.3, -2.4, -3.1, -2.8, -2.8, -2.9, -2.9, -2.95, -2.9, -3.1,
  -2.8, -2.85, -2.95, -2.9, -2.95, -2.85, -2.8, -2.95, -2.9, -2.95,
  -2.85, -2.95, -2.85, -2.9, -2.75, -2.7, -2.85, -2.95, -2.8, -2.85,
  -2.95, -2.65, -2.95, -2.85, -2.85, -2.85, -2.8, -2.85, -2.85, -2.75,
  -2.85, -2.85, -2.75, -2.85, -2.75, -2.85, -2.9, -2.75, -2.85, -2.75,
  -2.85, -2.75, -2.8, -2.75, -2.85, -2.75, -2.7, -2.75, -2.75, -2.65,
  -2.75, -2.65, -2.75, -2.7, -2.75, -2.65, -2.7, -2.75, -2.65, -2.75,
  -2.7, -2.75, -2.65, -2.75, -2.7, -2.55, -2.75, -2.65, -2.85, -2.65,
  -2.7, -2.75, -2.55, -2.65, -2.85, -2.65, -2.55, -2.7, -2.65, -2.75,
  -2.65, -2.55, -2.7, -2.75, -2.55, -2.65, -2.7, -2.6, -2.65, -2.65,
  -2.7, -2.75, -2.6, -2.85, -2.5, -2.8, -2.65, -2.55, -2.75, -2.65,
  -2.7, -2.6, -2.65, -2.75, -2.55, -2.5, -2.7, -2.65, -2.75, -2.6,
  -2.65, -2.7, -2.6, -2.75, -2.65, -2.55, -2.7, -2.6, -2.75, -2.5,
  -2.65, -2.75, -2.55, -2.65, -2.6, -2.75, -2.55, -2.7, -2.55, -2.65,
  -2.6, -2.7, -2.55, -2.65, -2.75, -2.6, -2.55, -2.7, -2.6, -2.7
];

// ---- styling ----
const FONT = '"Liberation Sans", Arial, Helvetica, sans-serif';
const FRAME = '#707070';
const GRIDLINE = '#b4b4b4';
const COLORS = ['#000000', '#ffa500', '#ffa500', '#1515ff', '#1515ff'];
const DASHED = [false, false, true, false, true];

const panels = [
  { grid: { left: 62, top: 71, width: 436, height: 179 }, xs: years, xMin: 1930, xMax: 2015, xTicks: yearTicks, xMinor: 5,
    yMin: -3, yMax: 3, yTicks: aTicks, fmt: v => v.toFixed(1), data: [aModel, aOr100, aOr005, aBl100, aBl005] },
  { grid: { left: 62, top: 356, width: 436, height: 181 }, xs: years, xMin: 1930, xMax: 2015, xTicks: yearTicks, xMinor: 5,
    yMin: -0.4, yMax: 1.0, yTicks: bTicks, fmt: v => v.toFixed(1), data: [bModel, bOr100, bOr005, bBl100, bBl005] },
  { grid: { left: 62, top: 647, width: 436, height: 179 }, xs: years, xMin: 1930, xMax: 2015, xTicks: yearTicks, xMinor: 5,
    yMin: -10, yMax: 10, yTicks: cTicks, fmt: v => String(v), data: [cModel, cOr100, cOr005, cBl100, cBl005] },
  { grid: { left: 598, top: 71, width: 439, height: 179 }, xs: steps, xMin: 0, xMax: 150, xTicks: stepTicks, xMinor: 10,
    yMin: -18, yMax: 3, yTicks: dTicks, fmt: v => String(v), data: [dModel, dOr100, dOr005, dBl100, dBl005] },
  { grid: { left: 598, top: 356, width: 439, height: 181 }, xs: steps, xMin: 0, xMax: 150, xTicks: stepTicks, xMinor: 10,
    yMin: 0, yMax: 7, yTicks: eTicks, fmt: v => v.toFixed(1), data: [eModel, eOr100, eOr005, eBl100, eBl005] },
  { grid: { left: 598, top: 647, width: 439, height: 179 }, xs: steps, xMin: 0, xMax: 150, xTicks: stepTicks, xMinor: 10,
    yMin: -4, yMax: 2, yTicks: fTicks, fmt: v => v.toFixed(1), data: [fModel, fOr100, fOr005, fBl100, fBl005] }
];

const labelStyle = { fontSize: 17, fontFamily: FONT, color: '#000' };
const tickLine = { color: FRAME, width: 1 };
const splitDash = { show: true, lineStyle: { color: GRIDLINE, width: 1, type: [4, 4] } };

function makeXAxes(p, g) {
  const base = { gridIndex: g, type: 'value', min: p.xMin, max: p.xMax, axisLine: { show: false, onZero: false }, splitLine: { show: false } };
  const axes = [];
  ['bottom', 'top'].forEach(pos => {
    // major ticks (+ labels and grid lines at the bottom)
    axes.push(Object.assign({}, base, {
      position: pos,
      axisLine: { show: true, onZero: false, lineStyle: { color: FRAME, width: 1 } },
      axisTick: { show: true, length: 10, customValues: p.xTicks, lineStyle: tickLine },
      axisLabel: pos === 'bottom'
        ? Object.assign({ customValues: p.xTicks, margin: 23, formatter: v => String(v) }, labelStyle)
        : { show: false },
      splitLine: pos === 'bottom' ? splitDash : { show: false }
    }));
    // minor ticks
    axes.push(Object.assign({}, base, {
      position: pos,
      interval: p.xMinor,
      axisTick: { show: true, length: 5, lineStyle: tickLine },
      axisLabel: { show: false }
    }));
  });
  return axes;
}

function makeYAxes(p, g) {
  return ['left', 'right'].map(pos => ({
    gridIndex: g, type: 'value', min: p.yMin, max: p.yMax, position: pos,
    axisLine: { show: true, onZero: false, lineStyle: { color: FRAME, width: 1 } },
    axisTick: { show: true, length: 10, customValues: p.yTicks, lineStyle: tickLine },
    axisLabel: pos === 'left'
      ? Object.assign({ customValues: p.yTicks, margin: 23, formatter: p.fmt }, labelStyle)
      : { show: false },
    splitLine: pos === 'left' ? splitDash : { show: false }
  }));
}

const grid = [], xAxis = [], yAxis = [], series = [];
panels.forEach((p, g) => {
  grid.push(p.grid);
  const xi = xAxis.length, yi = yAxis.length;
  xAxis.push(...makeXAxes(p, g));
  yAxis.push(...makeYAxes(p, g));
  p.data.forEach((vals, k) => {
    series.push({
      name: NAMES[k],
      type: 'line',
      xAxisIndex: xi,
      yAxisIndex: yi,
      data: vals.map((v, i) => [p.xs[i], v]),
      symbol: 'none',
      clip: true,
      lineStyle: { color: COLORS[k], width: 2, type: DASHED[k] ? [8, 5] : 'solid' },
      itemStyle: { color: COLORS[k] },
      z: 2 + k
    });
  });
});

function txt(x, y, text, align) {
  return { type: 'text', x, y, silent: true,
    style: { text, fontSize: 18, fontFamily: FONT, fill: '#000', align: align || 'left', verticalAlign: 'middle' } };
}

const chart = echarts.init(document.getElementById('chart'), null, { renderer: 'canvas' });
chart.setOption({
  animation: false,
  backgroundColor: '#fff',
  grid, xAxis, yAxis, series,
  legend: {
    data: NAMES,
    left: 338, top: 75, orient: 'vertical',
    itemWidth: 36, itemHeight: 12, itemGap: 0, padding: 0,
    itemStyle: { opacity: 0 },
    textStyle: { fontSize: 12, fontFamily: FONT, color: '#000', lineHeight: 12 },
    selectedMode: false
  },
  graphic: [
    txt(280, 21, 'AM4 amip-piForcing', 'center'),
    txt(817, 21, 'AM4 4xCO2', 'center'),
    txt(61, 50, 'a) R'),
    txt(61, 335, 'b) T'),
    txt(61, 625, 'c) radiative feedback'),
    txt(597, 50, 'd) R'),
    txt(597, 336, 'e) T'),
    txt(597, 625, 'f) radiative feedback')
  ]
});
</script>
</body>
</html>
